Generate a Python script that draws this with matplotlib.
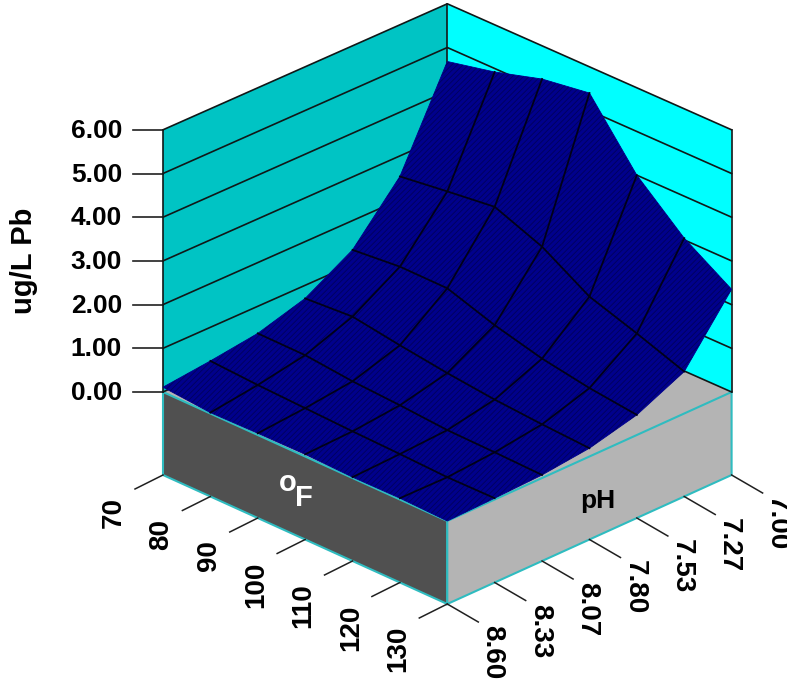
import numpy as np
import matplotlib
matplotlib.use('Agg')
import matplotlib.pyplot as plt
from matplotlib.patches import Polygon

temps = [70, 80, 90, 100, 110, 120, 130]
ph_labels = ['8.60', '8.33', '8.07', '7.80', '7.53', '7.27', '7.00']
z_ticks = [0, 1, 2, 3, 4, 5, 6]

# ug/L Pb, one row per pH (8.60 first), columns follow temps
pb_860 = [0.11, 0.02, 0.04, 0.05, 0.02, 0.03, 0.00]
pb_833 = [0.23, 0.17, 0.13, 0.09, 0.06, 0.02, 0.03]
pb_807 = [0.38, 0.37, 0.26, 0.20, 0.12, 0.10, 0.07]
pb_780 = [0.70, 0.77, 0.60, 0.45, 0.33, 0.25, 0.19]
pb_753 = [1.33, 1.43, 1.42, 1.06, 0.78, 0.59, 0.46]
pb_727 = [2.53, 2.67, 2.80, 2.37, 1.71, 1.35, 0.96]
pb_700 = [4.68, 4.92, 5.24, 5.40, 4.00, 3.04, 2.35]
pb = np.array([pb_860, pb_833, pb_807, pb_780, pb_753, pb_727, pb_700])

plt.rcParams['font.family'] = ['Liberation Sans', 'DejaVu Sans']
plt.rcParams['font.weight'] = 'bold'
plt.rcParams['hatch.linewidth'] = 0.6

fig = plt.figure(figsize=(7.87, 6.83), dpi=100)
ax = fig.add_axes([0, 0, 1, 1])
ax.set_xlim(0, 787)
ax.set_ylim(683, 0)
ax.axis('off')

n_t = len(temps) - 1
n_p = len(ph_labels) - 1


# axonometric view: temp index, pH index, height -> picture position
def proj(i, j, z=0.0):
    u = i / n_t
    v = j / n_p
    x = 163 + 284.3 * (u + v)
    y = 392 + 129 * u - 126 * v - 3 * u * v - 43.7 * z
    return x, y


def face(points, color, edge='none', lw=0, zorder=1):
    ax.add_patch(Polygon([proj(*p) for p in points], closed=True, facecolor=color,
                         edgecolor=edge, linewidth=lw, zorder=zorder))


top = z_ticks[-1]
teal = '#2fbcc0'
drop = 83 / 43.7

# walls and floor
face([(0, 0), (0, n_p), (0, n_p, top), (0, 0, top)], '#00c4c4')
face([(0, n_p), (n_t, n_p), (n_t, n_p, top), (0, n_p, top)], '#00ffff')
face([(0, 0), (n_t, 0), (n_t, n_p), (0, n_p)], '#b4b4b4')

# base box
face([(0, 0), (n_t, 0), (n_t, 0, -drop), (0, 0, -drop)], '#505050', teal, 1.5)
face([(n_t, 0), (n_t, n_p), (n_t, n_p, -drop), (n_t, 0, -drop)], '#b4b4b4', teal, 1.5)

# wall grid lines
for z in z_ticks:
    xs, ys = zip(proj(0, 0, z), proj(0, n_p, z), proj(n_t, n_p, z))
    ax.plot(xs, ys, color='#101818', lw=1.2, zorder=2)
    x0, y0 = proj(0, 0, z)
    ax.plot([x0 - 30, x0], [y0, y0], color='#202020', lw=1.2, zorder=2)
    ax.text(x0 - 41, y0 + 1, '%.2f' % z, ha='right', va='center', fontsize=19, zorder=5)
for i, j in [(0, 0), (0, n_p), (n_t, n_p)]:
    xs, ys = zip(proj(i, j, 0), proj(i, j, top))
    ax.plot(xs, ys, color='#101818', lw=1.2, zorder=2)

# surface, back corner first
for j in range(n_p - 1, -1, -1):
    for i in range(n_t):
        corners = [(i, j, pb[j, i]), (i + 1, j, pb[j, i + 1]),
                   (i + 1, j + 1, pb[j + 1, i + 1]), (i, j + 1, pb[j + 1, i])]
        xy = [proj(*c) for c in corners]
        ax.add_patch(Polygon(xy, closed=True, facecolor='#00008c', edgecolor='#00008c',
                             linewidth=0.6, zorder=3))
        ax.add_patch(Polygon(xy, closed=True, facecolor='none', edgecolor='#00005c',
                             linewidth=0, hatch='//////', zorder=3))

# mesh lines, only inside the surface
for i in range(1, n_t):
    xs, ys = zip(*[proj(i, j, pb[j, i]) for j in range(n_p + 1)])
    ax.plot(xs, ys, color='#000018', lw=1.3, zorder=4)
for j in range(1, n_p):
    xs, ys = zip(*[proj(i, j, pb[j, i]) for i in range(n_t + 1)])
    ax.plot(xs, ys, color='#000018', lw=1.3, zorder=4)

# temperature ticks
for i, t in enumerate(temps):
    x0, y0 = proj(i, 0, -drop)
    ax.plot([x0 - 28, x0], [y0 + 14, y0], color='#202020', lw=1.1, zorder=2)
    ax.text(x0 - 49, y0 + 22, str(t), rotation=90, ha='center', va='top', fontsize=20)

# pH ticks
for j, lab in enumerate(ph_labels):
    x0, y0 = proj(n_t, j, -drop)
    ax.plot([x0, x0 + 31], [y0, y0 + 18], color='#202020', lw=1.1, zorder=2)
    ax.text(x0 + 45, y0 + 21, lab, rotation=-90, ha='center', va='top', fontsize=20)

ax.text(24, 261, 'ug/L Pb', rotation=90, ha='center', va='center', fontsize=21)
ax.text(288, 483, 'o', color='white', ha='center', va='center', fontsize=21, zorder=5)
ax.text(304, 498, 'F', color='white', ha='center', va='center', fontsize=21, zorder=5)
ax.text(598, 501, 'pH', color='black', ha='center', va='center', fontsize=19, zorder=5)

fig.savefig('out.png', dpi=100)
